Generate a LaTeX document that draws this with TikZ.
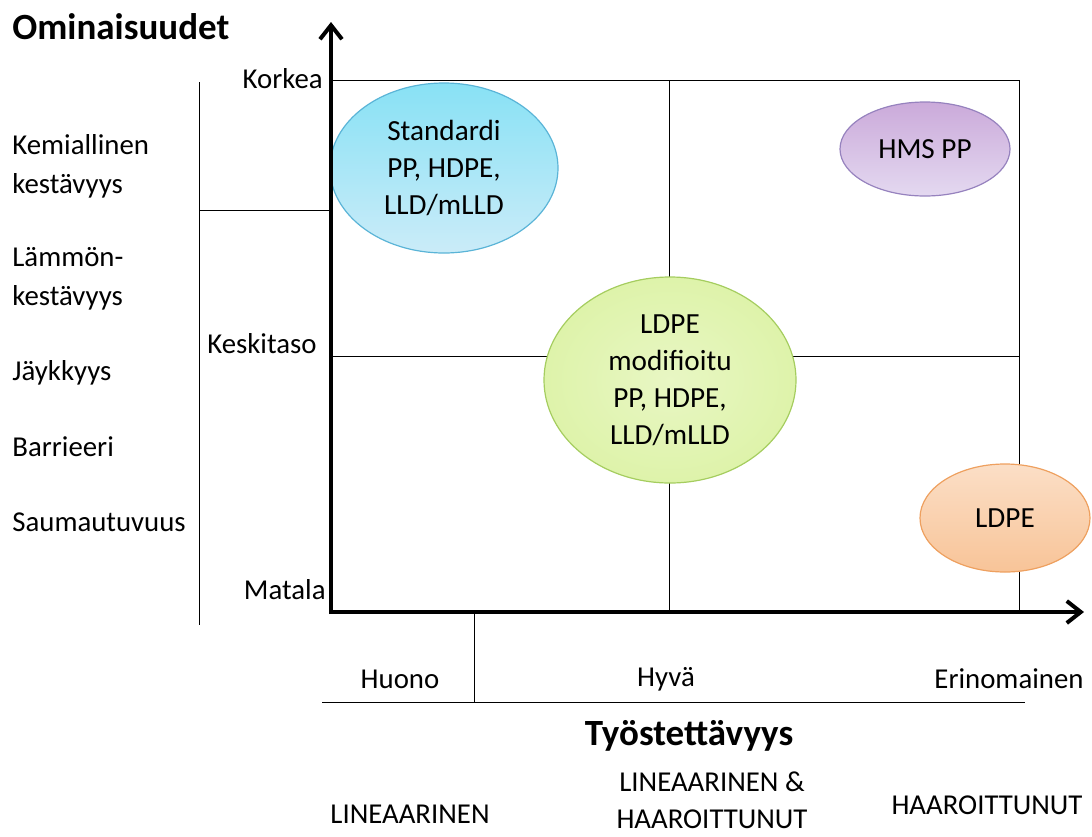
\documentclass[tikz,border=0pt]{standalone}
\usepackage{fontspec}
\setmainfont{Carlito}
\usepackage{xcolor}
\definecolor{bubbleblue}{RGB}{160, 220, 243}
\definecolor{blueedge}{RGB}{90, 180, 215}
\definecolor{bubblegreen}{RGB}{222, 243, 170}
\definecolor{greenedge}{RGB}{165, 205, 95}
\definecolor{bubblepurple}{RGB}{216, 200, 234}
\definecolor{purpleedge}{RGB}{150, 130, 190}
\definecolor{bubbleorange}{RGB}{248, 196, 152}
\definecolor{orangeedge}{RGB}{238, 160, 95}
\usepackage{tikz}
\usetikzlibrary{arrows.meta, positioning, shapes.geometric, calc}

\begin{document}
\begin{tikzpicture}[x=0.5pt, y=-0.5pt,
    lbl/.style={font=\fontsize{14.4}{17.5}\selectfont, inner sep=0pt},
    heading/.style={font=\fontsize{18.5}{22}\selectfont\bfseries, inner sep=0pt},
    axis/.style={line width=2pt, -{Straight Barb[length=7pt, width=11pt, line width=2pt]}},
    grid/.style={line width=0.5pt},
    bubble/.style={ellipse, draw, line width=0.6pt, align=center,
        font=\fontsize{14.6}{18.5}\selectfont, inner sep=0pt}]
    \useasboundingbox (0,0) rectangle (1092,836);
    % corners of the chart
    \coordinate (O) at (331,612);
    \coordinate (TL) at (331,80);
    \coordinate (TR) at (1019,80);
    \coordinate (BR) at (1019,612);
    \coordinate (TM) at (669,80);
    \coordinate (BM) at (669,612);
    \coordinate (ML) at (331,356);
    \coordinate (MR) at (1019,356);
    % grid
    \draw[grid] (TL) -- (TR) -- (BR);
    \draw[grid] (TM) -- (BM);
    \draw[grid] (ML) -- (MR);
    % left bracket
    \coordinate (BrT) at (199,82);
    \coordinate (BrB) at (199,625);
    \coordinate (BrM) at (199,210);
    \draw[grid] (BrT) -- (BrB);
    \draw[grid] (BrM) -- (BrM -| O);
    % bottom bracket
    \coordinate (BtL) at (322,702);
    \coordinate (BtR) at (1025,702);
    \coordinate (BtT) at (474,612);
    \draw[grid] (BtL) -- (BtR);
    \draw[grid] (BtT) -- (BtT |- BtL);
    % bubbles
    \node[bubble, draw=blueedge, top color=bubbleblue!85!cyan, bottom color=bubbleblue!55,
        minimum width=114pt, minimum height=85pt] (std) at (444,168) {Standardi\\PP, HDPE,\\LLD/mLLD};
    \node[bubble, draw=greenedge, inner color=bubblegreen!70, outer color=bubblegreen,
        minimum width=126pt, minimum height=103pt] (mod) at (670,380) {LDPE\\modifioitu\\PP, HDPE,\\LLD/mLLD};
    \node[bubble, draw=purpleedge, top color=bubblepurple!85!violet, bottom color=bubblepurple!70,
        minimum width=85pt, minimum height=47pt] (hms) at (925,149) {HMS PP};
    \node[bubble, draw=orangeedge, top color=bubbleorange!55, bottom color=bubbleorange,
        minimum width=85pt, minimum height=54pt] (ldpe) at (1005,518) {LDPE};
    % axes
    \coordinate (Ytip) at (331,22);
    \coordinate (Xtip) at (1084,612);
    \draw[axis] ($(O)+(0,2)$) -- (Ytip);
    \draw[axis] ($(O)+(-1,0)$) -- (Xtip);
    % axis titles
    \node[heading, anchor=west] (omin) at (12,27) {Ominaisuudet};
    \node[heading] (tyo) at (689,736) {Työstettävyys};
    % y levels
    \node[lbl, anchor=east] (korkea) at (323,79) {Korkea};
    \node[lbl, anchor=east] (keski) at (317,344) {Keskitaso};
    \node[lbl, anchor=east] (matala) at (326,590) {Matala};
    % properties
    \node[lbl, anchor=west, align=left] (kem) at (12,166) {Kemiallinen\\[2pt]kestävyys};
    \node[lbl, anchor=west, align=left] (lam) at (12,279) {Lämmön-\\[2pt]kestävyys};
    \node[lbl, anchor=west] (jay) at (12,373) {Jäykkyys};
    \node[lbl, anchor=west] (bar) at (12,447) {Barrieeri};
    \node[lbl, anchor=west] (sau) at (12,522) {Saumautuvuus};
    % x levels
    \node[lbl] (huono) at (400,679) {Huono};
    \node[lbl] (hyva) at (666,679) {Hyvä};
    \node[lbl] (erin) at (1009,679) {Erinomainen};
    % structures
    \node[lbl] (lin) at (410,814) {LINEAARINEN};
    \node[lbl, align=center] (linhaar) at (712,800) {LINEAARINEN \&\\[1pt]HAAROITTUNUT};
    \node[lbl] (haar) at (987,805) {HAAROITTUNUT};
\end{tikzpicture}
\end{document}
